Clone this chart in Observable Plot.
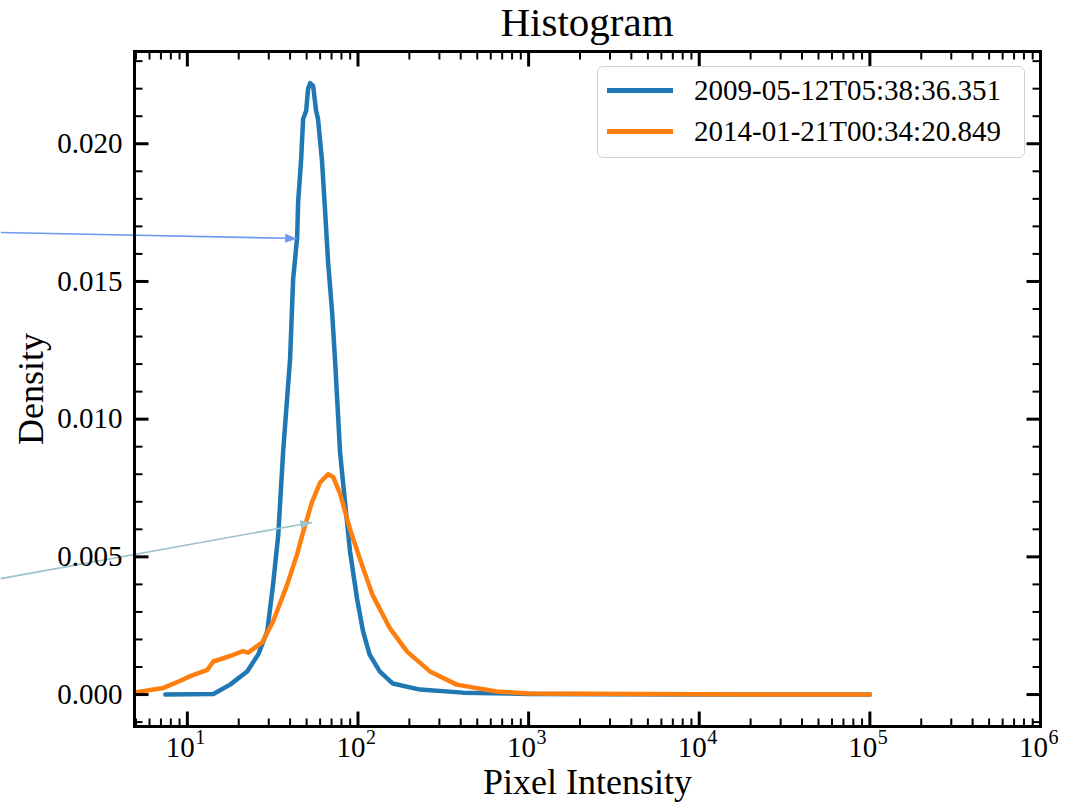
<!DOCTYPE html>
<html>
<head>
<meta charset="utf-8">
<script src="https://cdn.jsdelivr.net/npm/d3@7"></script>
<script src="https://cdn.jsdelivr.net/npm/@observablehq/plot@0.6"></script>
<style>
  body { margin: 0; background: #fff; }
  #wrap { position: relative; width: 1072px; height: 803px; font-family: "Liberation Serif", serif; color: #000; }
  #title { width: 1072px; height: 44px; line-height: 44px; font-size: 41px; text-align: center; padding-left: 134px; padding-right: 32px; box-sizing: border-box; }
  #legend { position: absolute; left: 597px; top: 66px; width: 428px; height: 92px; box-sizing: border-box; border: 1.5px solid #d2d2d2; border-radius: 6px; background: rgba(255,255,255,0.85); }
  .row { position: absolute; left: 0; width: 100%; height: 40px; }
  .sw { position: absolute; left: 9px; width: 66px; height: 4.5px; top: 18px; }
  .lab { position: absolute; left: 96px; top: 0; height: 40px; line-height: 40px; font-size: 29px; white-space: nowrap; }
</style>
</head>
<body>
<div id="wrap">
  <div id="title"></div>
  <div id="chart"></div>
  <div id="legend"></div>
</div>
<script>
// ---- data ----
const titleText = "Histogram";
const xLabel = "Pixel Intensity";
const yLabel = "Density";
const seriesNames = ["2009-05-12T05:38:36.351", "2014-01-21T00:34:20.849"];
const seriesColors = ["#1f77b4", "#ff7f0e"];

// Series 1 (2009) : intensity, density
const blueX = [7.43, 14.2, 17.8, 22.4, 26.0, 29.4, 31.8, 34.1, 36.4, 40.0, 41.7, 44.0, 44.6, 46.4, 47.7, 49.7, 51.0, 52.4, 54.6, 56.8, 58.3, 61.5, 64.1, 66.8, 70.5, 73.3, 78.5, 83.9, 89.8, 98.6, 107, 117, 134, 160, 231, 411, 1010, 10000, 100000];
const blueY = [0.0000, 0.00002, 0.00036, 0.00084, 0.00145, 0.0023, 0.0040, 0.0058, 0.0088, 0.0122, 0.0151, 0.0166, 0.0179, 0.0194, 0.0209, 0.0212, 0.0220, 0.0222, 0.0221, 0.0212, 0.0209, 0.0194, 0.0176, 0.0157, 0.0139, 0.0122, 0.0088, 0.0070, 0.0052, 0.0035, 0.0023, 0.00145, 0.00084, 0.0004, 0.00018, 0.00007, 0.00002, 0.000005, 0.0];

// Series 2 (2014)
const orangeX = [4.9, 7.24, 9.10, 10.4, 13.1, 14.2, 17.8, 21.2, 22.7, 27.5, 31.8, 38.5, 44.0, 47.7, 53.8, 60.0, 66.8, 71.5, 78.5, 89.8, 103, 122, 154, 194, 264, 379, 650, 1010, 10000, 100000];
const orangeY = [0.00008, 0.00024, 0.0005, 0.00067, 0.0009, 0.0012, 0.0014, 0.00158, 0.00152, 0.0019, 0.00265, 0.0040, 0.0051, 0.0059, 0.0070, 0.0077, 0.0080, 0.0079, 0.0073, 0.0060, 0.0049, 0.0036, 0.0024, 0.00156, 0.00084, 0.00036, 0.00011, 0.00004, 0.00001, 0.0];

// annotation arrows (data coordinates: start -> end)
const arrowX1 = [0.806, 0.806];
const arrowY1 = [0.01678, 0.00421];
const arrowX2 = [44.0, 53.8];
const arrowY2 = [0.01656, 0.00625];
const arrowColors = ["#6d9cee", "#9cc2ca"];

// axes
const xDomain = [4.9, 1e6];
const yDomain = [-0.00116, 0.02335];
const xMajor = [10, 100, 1000, 10000, 100000, 1000000];
const xMajorBase = ["10", "10", "10", "10", "10", "10"];
const xMajorExp = ["1", "2", "3", "4", "5", "6"];
const yMajor = [0, 0.005, 0.010, 0.015, 0.020];
const yMajorLabels = ["0.000", "0.005", "0.010", "0.015", "0.020"];

// ---- build ----
const blue = blueX.map((x, i) => ({x, y: blueY[i]}));
const orange = orangeX.map((x, i) => ({x, y: orangeY[i]}));
const arrows = arrowX1.map((x1, i) => ({x1, y1: arrowY1[i], x2: arrowX2[i], y2: arrowY2[i], c: arrowColors[i]}));
const xLabels = xMajor.map((v, i) => ({v, base: xMajorBase[i], exp: xMajorExp[i]}));

const xMinor = [];
for (let e = 0; e <= 5; e++) for (let k = 2; k <= 9; k++) {
  const v = k * Math.pow(10, e);
  if (v > xDomain[0] && v < xDomain[1]) xMinor.push(v);
}
const yMinor = d3.range(-1, 24).filter(i => i % 5 !== 0).map(i => i / 1000)
  .filter(v => v > yDomain[0] && v < yDomain[1]);

const tickShape = {draw(context, l) { context.moveTo(0, 0); context.lineTo(0, -l); }};
function ticks(data, ch, frameAnchor, rotate, length, sw) {
  const o = {frameAnchor, rotate, length, anchor: "start", shape: tickShape, stroke: "black", strokeWidth: sw, strokeLinecap: "butt"};
  o[ch] = d => d;
  return Plot.vector(data, o);
}

function triHead(color) {
  const ns = "http://www.w3.org/2000/svg";
  const m = document.createElementNS(ns, "marker");
  m.setAttribute("viewBox", "-12 -4.5 12 9");
  m.setAttribute("markerWidth", 12);
  m.setAttribute("markerHeight", 9);
  m.setAttribute("markerUnits", "userSpaceOnUse");
  m.setAttribute("refX", 0);
  m.setAttribute("refY", 0);
  m.setAttribute("orient", "auto");
  const p = document.createElementNS(ns, "path");
  p.setAttribute("d", "M-12,-4.5L0,0L-12,4.5Z");
  p.setAttribute("fill", color);
  p.setAttribute("stroke", "none");
  m.appendChild(p);
  return m;
}

const yLabelMap = new Map(yMajor.map((v, i) => [v, yMajorLabels[i]]));

const chart = Plot.plot({
  width: 1072,
  height: 759,
  marginTop: 7,
  marginBottom: 77,
  marginLeft: 134,
  marginRight: 32,
  x: {type: "log", domain: xDomain, axis: null},
  y: {domain: yDomain},
  style: {fontFamily: "'Liberation Serif', serif", fontSize: "29px", color: "black", background: "white", overflow: "visible"},
  marks: [
    Plot.line(blue, {x: "x", y: "y", stroke: seriesColors[0], strokeWidth: 4.5, clip: true}),
    Plot.line(orange, {x: "x", y: "y", stroke: seriesColors[1], strokeWidth: 4.5, clip: true}),
    Plot.link(arrows, {x1: "x1", y1: "y1", x2: "x2", y2: "y2", stroke: "c", strokeWidth: 1.6, markerEnd: triHead}),
    ticks(yMajor, "y", "left", 90, 14, 3),
    ticks(yMinor, "y", "left", 90, 8, 2),
    ticks(yMajor, "y", "right", -90, 14, 3),
    ticks(yMinor, "y", "right", -90, 8, 2),
    ticks(xMajor, "x", "bottom", 0, 15, 3),
    ticks(xMinor, "x", "bottom", 0, 8, 2),
    ticks(xMajor, "x", "top", 180, 15, 3),
    ticks(xMinor, "x", "top", 180, 8, 2),
    Plot.frame({stroke: "black", strokeWidth: 3}),
    // x tick labels: base "10" plus raised exponent
    Plot.text(xLabels, {x: "v", text: "base", frameAnchor: "bottom", dy: 21, dx: -7, fontSize: 29, lineAnchor: "middle", textAnchor: "middle"}),
    Plot.text(xLabels, {x: "v", text: "exp", frameAnchor: "bottom", dy: 11, dx: 8, fontSize: 20, lineAnchor: "middle", textAnchor: "start"}),
    Plot.axisY(yMajor, {tickSize: 0, tickPadding: 12, fontSize: 29, label: null, tickFormat: d => yLabelMap.get(d)}),
    Plot.text([xLabel], {text: d => d, frameAnchor: "bottom", dy: 56, fontSize: 36, lineAnchor: "middle", textAnchor: "middle"}),
    Plot.text([yLabel], {text: d => d, frameAnchor: "left", rotate: -90, dx: -103, fontSize: 36, lineAnchor: "middle", textAnchor: "middle"})
  ]
});
document.getElementById("chart").appendChild(chart);
document.getElementById("title").textContent = titleText;

const legend = document.getElementById("legend");
seriesNames.forEach((name, i) => {
  const row = document.createElement("div");
  row.className = "row";
  row.style.top = (i === 0 ? 3 : 44) + "px";
  const sw = document.createElement("div");
  sw.className = "sw";
  sw.style.background = seriesColors[i];
  const lab = document.createElement("div");
  lab.className = "lab";
  lab.textContent = name;
  row.appendChild(sw);
  row.appendChild(lab);
  legend.appendChild(row);
});
</script>
</body>
</html>
